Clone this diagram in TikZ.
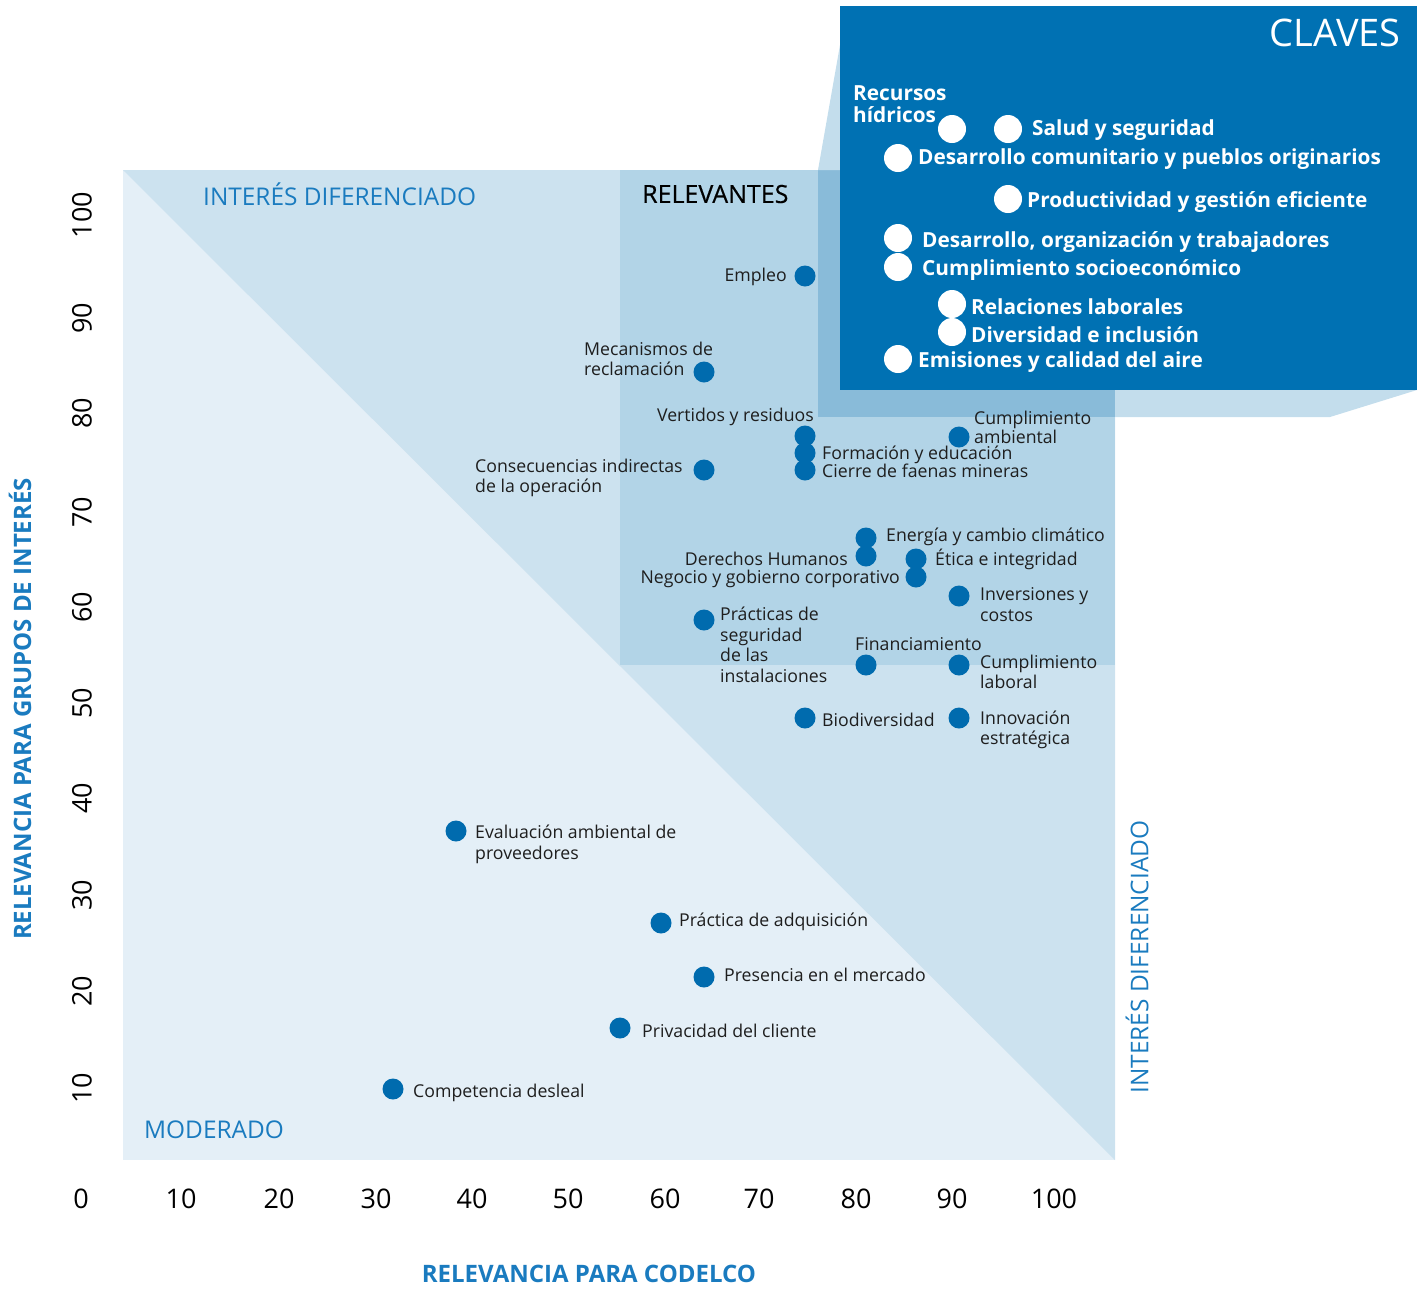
\documentclass[tikz,border=0pt]{standalone}
\usepackage{fontspec}
\setmainfont{Open Sans}
\begin{document}
\begin{tikzpicture}[x=1pt,y=-1pt,
  dot/.style={circle,fill=dotblue,inner sep=0pt,minimum size=21pt},
  kdot/.style={circle,fill=white,inner sep=0pt,minimum size=28pt},
  lab/.style={font=\fontsize{17.7}{20}\selectfont,text=labtext,inner sep=0pt,align=left},
  labr/.style={lab,align=right},
  klab/.style={font=\fontsize{20.8}{22}\selectfont\bfseries,text=white,inner sep=0pt,align=left,yshift=-2pt},
  tick/.style={font=\fontsize{27}{27}\selectfont,text=black,inner sep=0pt},
  zone/.style={font=\fontsize{24.4}{24}\selectfont,text=zoneblue,inner sep=0pt},
  axt/.style={font=\fontsize{24}{24}\selectfont\bfseries,text=zoneblue,inner sep=0pt}]
\definecolor{bglow}{HTML}{E4EFF7}
\definecolor{bgtri}{HTML}{CCE2EF}
\definecolor{relev}{HTML}{B2D4E7}
\definecolor{overlap}{HTML}{89BBD9}
\definecolor{proj}{HTML}{C3DDEC}
\definecolor{boxblue}{HTML}{0071B3}
\definecolor{dotblue}{HTML}{006BAE}
\definecolor{zoneblue}{HTML}{1A7BBF}
\definecolor{labtext}{HTML}{1E1E1E}
\useasboundingbox (0,0) rectangle (1427,1288);
% zones
\fill[bglow] (123,170) rectangle (1115,1160);
\fill[bgtri] (123,170) -- (1115,170) -- (1115,1160) -- cycle;
\fill[relev] (620,170) rectangle (1115,665);
\fill[overlap] (818,170) rectangle (1115,417);
\fill[proj] (818,170) -- (840,45) -- (840,170) -- cycle;
\fill[proj] (1115,390) -- (1417,390) -- (1330,417) -- (1115,417) -- cycle;
\fill[boxblue] (840,6) rectangle (1417,390);
% zone titles
\node[zone,anchor=west] (zt1) at (203,194) {INTERÉS DIFERENCIADO};
\node[zone,anchor=west] (zt2) at (144,1130) {MODERADO};
\node[zone,rotate=90] (zt3) at (1137,957) {INTERÉS DIFERENCIADO};
\node[font=\fontsize{25}{25}\selectfont\addfontfeature{FakeBold=0.4},text=black,inner sep=0pt,anchor=west] (zt4) at (642,194) {RELEVANTES};
% key box
\node[font=\fontsize{38}{38}\selectfont,text=white,inner sep=0pt,anchor=east] (claves) at (1401,33) {CLAVES};
\node[klab,anchor=north west,yshift=0pt] (k0) at (853,83) {Recursos\\hídricos};
\node[kdot] (k0d) at (952,129) {};
\node[kdot] (k1d) at (1008,129) {};
\node[klab,anchor=west] (k1) at (1032,128) {Salud y seguridad};
\node[kdot] (k2d) at (898,158) {};
\node[klab,anchor=west] (k2) at (918,157) {Desarrollo comunitario y pueblos originarios};
\node[kdot] (k3d) at (1008,199) {};
\node[klab,anchor=west] (k3) at (1027,200) {Productividad y gestión eficiente};
\node[kdot] (k4d) at (898,238) {};
\node[klab,anchor=west] (k4) at (922,240) {Desarrollo, organización y trabajadores};
\node[kdot] (k5d) at (898,267) {};
\node[klab,anchor=west] (k5) at (922,268) {Cumplimiento socioeconómico};
\node[kdot] (k6d) at (952,304) {};
\node[klab,anchor=west] (k6) at (971,305) {Relaciones laborales};
\node[kdot] (k7d) at (952,332) {};
\node[klab,anchor=west] (k7) at (971,333) {Diversidad e inclusión};
\node[kdot] (k8d) at (898,359) {};
\node[klab,anchor=west] (k8) at (918,360) {Emisiones y calidad del aire};
% data points
\node[dot] (p1) at (805,276) {};
\node[labr,anchor=east] (l1) at (787,277) {Empleo};
\node[dot] (p2) at (704,372) {};
\node[lab,anchor=north west] (l2) at (584,342) {Mecanismos de\\reclamación};
\node[lab,anchor=east] (l3) at (814,417) {Vertidos y residuos};
\node[dot] (p3) at (805,436) {};
\node[dot] (p4) at (805,453) {};
\node[dot] (p5) at (805,470) {};
\node[lab,anchor=west] (l4) at (822,455) {Formación y educación};
\node[lab,anchor=west] (l5) at (822,471) {Cierre de faenas mineras};
\node[dot] (p6) at (959,437) {};
\node[lab,anchor=north west,font=\fontsize{17.7}{17}\selectfont] (l6) at (974,411) {Cumplimiento\\ambiental};
\node[dot] (p7) at (704,470) {};
\node[lab,anchor=north west] (l7) at (475,459) {Consecuencias indirectas\\de la operación};
\node[dot] (p8) at (866,538) {};
\node[lab,anchor=west] (l8) at (886,537) {Energía y cambio climático};
\node[dot] (p9) at (866,556) {};
\node[lab,anchor=east] (l9) at (848,559) {Derechos Humanos};
\node[dot] (p10) at (916,559) {};
\node[lab,anchor=west] (l10) at (935,559) {Ética e integridad};
\node[dot] (p11) at (916,577) {};
\node[lab,anchor=east] (l11) at (900,579) {Negocio y gobierno corporativo};
\node[dot] (p12) at (959,596) {};
\node[lab,anchor=north west,font=\fontsize{17.7}{21}\selectfont] (l12) at (980,587) {Inversiones y\\costos};
\node[dot] (p13) at (704,620) {};
\node[lab,anchor=north west,font=\fontsize{17.7}{20.5}\selectfont] (l13) at (720,607) {Prácticas de\\seguridad\\de las\\instalaciones};
\node[lab,anchor=west] (l14) at (855,644) {Financiamiento};
\node[dot] (p14) at (866,665) {};
\node[dot] (p15) at (959,665) {};
\node[lab,anchor=north west] (l15) at (980,655) {Cumplimiento\\laboral};
\node[dot] (p16) at (805,718) {};
\node[lab,anchor=west] (l16) at (822,720) {Biodiversidad};
\node[dot] (p17) at (959,718) {};
\node[lab,anchor=north west] (l17) at (980,711) {Innovación\\estratégica};
\node[dot] (p18) at (456,831) {};
\node[lab,anchor=north west,font=\fontsize{17.7}{21}\selectfont] (l18) at (475,825) {Evaluación ambiental de\\proveedores};
\node[dot] (p19) at (661,923) {};
\node[lab,anchor=west] (l19) at (679,922) {Práctica de adquisición};
\node[dot] (p20) at (704,977) {};
\node[lab,anchor=west] (l20) at (724,975) {Presencia en el mercado};
\node[dot] (p21) at (620,1028) {};
\node[lab,anchor=west] (l21) at (642,1031) {Privacidad del cliente};
\node[dot] (p22) at (393,1089) {};
\node[lab,anchor=west] (l22) at (413,1093) {Competencia desleal};
% x ticks
\foreach \v/\xx in {0/81,10/181,20/279,30/376,40/472,50/568,60/665,70/759,80/856,90/952,100/1054}
  \node[tick] (xt\v) at (\xx,1199) {\v};
% y ticks
\foreach \v/\yy in {100/215,90/318,80/413,70/512,60/607,50/703,40/798,30/895,20/991,10/1088}
  \node[tick,rotate=90] (yt\v) at (82,\yy) {\v};
% axis titles
\node[axt,rotate=90] (ya) at (20,709) {RELEVANCIA PARA GRUPOS DE INTERÉS};
\node[axt] (xa) at (589,1274) {RELEVANCIA PARA CODELCO};
\end{tikzpicture}
\end{document}
